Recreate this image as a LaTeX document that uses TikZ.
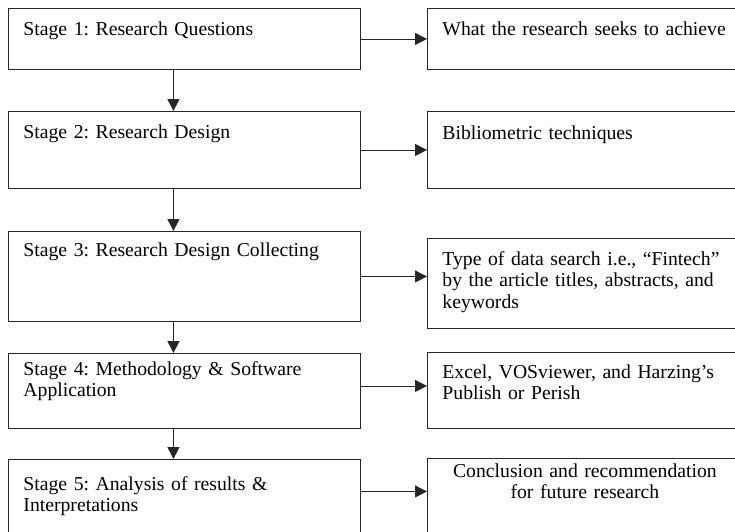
\documentclass[tikz,border=0pt]{standalone}
\usepackage{fontspec}
\setmainfont{Liberation Serif}
\usepackage{tikz}
\usetikzlibrary{arrows.meta,positioning}
\frenchspacing
\tikzstyle{stage} = [draw=black!85, line width=0.9pt, rectangle, anchor=north west, inner xsep=15pt, inner ysep=0pt, text width=322pt, align=left, font=\fontsize{19.7}{21.5}\selectfont]
\tikzstyle{outcome} = [stage, text width=285pt]
\tikzstyle{arrow} = [line width=0.9pt, draw=black!85, -{Triangle[length=12pt,width=12pt]}]
\tikzset{sz/.style 2 args={text height=#1pt, text depth=#2pt}}

\begin{document}
\begin{tikzpicture}[x=1pt, y=1pt]
\path[use as bounding box] (0,0) rectangle (735,-531);
\clip (0,0) rectangle (735,-531);

% Stages on the left
\node[stage, sz={27}{34}] (s1) at (8,-8) {Stage 1: Research Questions};
\node[stage, sz={27}{50}] (s2) at (8,-111) {Stage 2: Research Design};
\node[stage, sz={25}{65}] (s3) at (8,-231) {Stage 3: Research Design Collecting};
\node[stage, sz={22}{53}] (s4) at (8,-353) {Stage 4: Methodology \& Software\\Application};
\node[stage, sz={31}{45}] (s5) at (8,-459) {Stage 5: Analysis of results \&\\Interpretations};

% What each stage gives
\node[outcome, sz={27}{34}] (r1) at (427,-8) {What the research seeks to achieve};
\node[outcome, sz={28}{49}] (r2) at (427,-111) {Bibliometric techniques};
\node[outcome, sz={27}{63}] (r3) at (427,-238) {\makebox[285pt][s]{Type of data search i.e., “Fintech”}\\\makebox[285pt][s]{by the article titles, abstracts, and}\\keywords};
\node[outcome, sz={26}{50}] (r4) at (427,-352) {Excel, VOSviewer, and Harzing’s\\Publish or Perish};
\node[outcome, sz={19}{71}, align=center] (r5) at (427,-458) {Conclusion and recommendation\\for future research};

% Flow down
\draw[arrow] ([xshift=-11pt]s1.south) -- ([xshift=-11pt]s2.north);
\draw[arrow] ([xshift=-11pt]s2.south) -- ([xshift=-11pt]s3.north);
\draw[arrow] ([xshift=-11pt]s3.south) -- ([xshift=-11pt]s4.north);
\draw[arrow] ([xshift=-11pt]s4.south) -- ([xshift=-11pt]s5.north);

% Flow across
\draw[arrow] (s1.east) -- (s1.east -| r1.west);
\draw[arrow] (s2.east) -- (s2.east -| r2.west);
\draw[arrow] (s3.east) -- (s3.east -| r3.west);
\draw[arrow] ([yshift=5pt]s4.east) -- ([yshift=5pt]s4.east -| r4.west);
\draw[arrow] ([yshift=6pt]s5.east) -- ([yshift=6pt]s5.east -| r5.west);
\end{tikzpicture}
\end{document}
